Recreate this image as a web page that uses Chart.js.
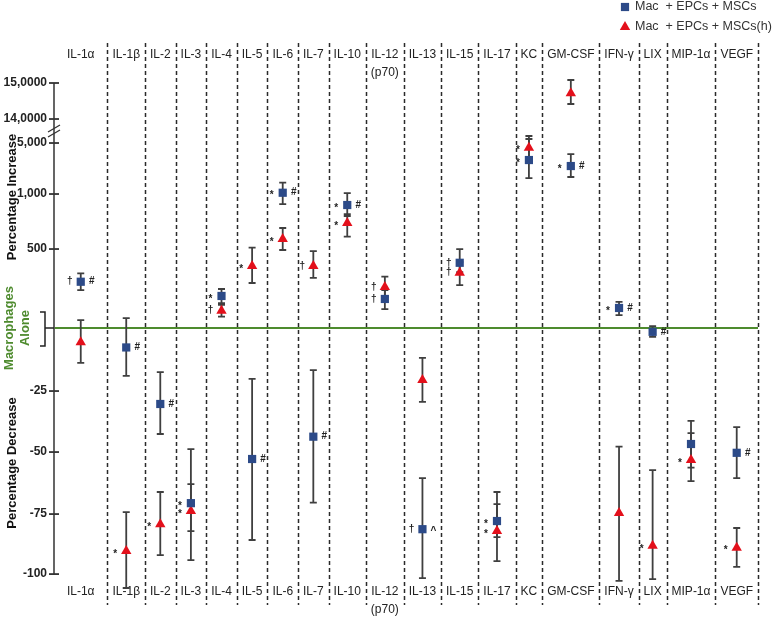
<!DOCTYPE html>
<html><head><meta charset="utf-8">
<script src="https://cdn.jsdelivr.net/npm/chart.js@4.4.1/dist/chart.umd.min.js"></script>
<style>html,body{margin:0;padding:0;background:#fff}#wrap{width:774px;height:617px}</style>
</head><body><div id="wrap"><canvas id="c" width="774" height="617"></canvas></div>
<script>
// ---------- DATA ----------
const categories = ['IL-1α','IL-1β','IL-2','IL-3','IL-4','IL-5','IL-6','IL-7','IL-10',['IL-12','(p70)'],'IL-13','IL-15','IL-17','KC','GM-CSF','IFN-γ','LIX','MIP-1α','VEGF'];
const seriesNames = ['Mac  + EPCs + MSCs', 'Mac  + EPCs + MSCs(h)'];

// percentage change relative to macrophages alone
const macEpcMsc      = [293, -7.7, -30.3, -70.6, 203, -52.8, 1100, -43.7, 900, 184, -81.3, 413, -77.9, 3666, 3195, 127, -1.5, -46.7, -50.3];
const macEpcMscLow   = [240, -19, -42.6, -82.1, 158, -85.8, 909, -70.4, 800, 120, -101.7, 354, -84.6, 2254, 2333, 82, -3.5, -56.3, -60.5];
const macEpcMscHigh  = [346, 63, -17.5, -62.9, 247, -20.2, 1886, -16.7, 1078, 240, -60.5, 500, -71, 6500, 4136, 166, 12.7, -37.2, -39.8];
const macEpcMscLeft  = ['†','','','*','*','','*','','*','†','†','†','*','*','*','*','','',''];
const macEpcMscRight = ['#','#','#','','','#','#','#','#','','^','','','','#','#','#','','#'];

const macEpcMscH      = [-5.6, -90.4, -79.2, -73.8, 110, 392, 591, 392, 736, 260, -20.6, 350, -82.1, 4630, 14714, -74.6, -88.2, -53.2, -89];
const macEpcMscHLow   = [-13.8, -105.8, -92.1, -94.2, 72, 285, 494, 318, 612, 196, -29.4, 272, -94.6, 3822, 14417, -102.8, -102.1, -61.7, -97];
const macEpcMscHHigh  = [50.6, -74.2, -66.1, -48.8, 146, 512, 691, 487, 818, 325, -11.8, 418, -66.1, 7625, 15084, -47.8, -57.3, -42.2, -80.8];
const macEpcMscHLeft  = ['','*','*','*','†','*','*','†','*','†','','†','*','*','','','*','*','*'];
const macEpcMscHRight = ['','','','','','','','','','','','','','','','','','',''];

const yTickValues = [-100, -75, -50, -25, 500, 1000, 5000, 14000, 15000];
const yTickLabels = ['-100', '-75', '-50', '-25', '500', '1,000', '5,000', '14,0000', '15,0000'];

// ---------- AXIS GEOMETRY (segmented y axis of the figure) ----------
const axisStops = [-100, -75, -50, -25, 0, 500, 1000, 5000, 14000, 15000];
const axisGaps  = [60, 62, 61, 63, 79, 55, 51, 24, 36];
function toU(v) {
  const n = axisGaps.length;
  if (v <= axisStops[0]) return (v - axisStops[0]) / (axisStops[1] - axisStops[0]) * axisGaps[0];
  let u = 0;
  for (let i = 0; i < n; i++) {
    const a = axisStops[i], b = axisStops[i + 1];
    if (v <= b || i === n - 1) return u + (v - a) / (b - a) * axisGaps[i];
    u += axisGaps[i];
  }
}
function fromU(u) {
  const n = axisGaps.length;
  if (u <= 0) return axisStops[0] + u / axisGaps[0] * (axisStops[1] - axisStops[0]);
  let acc = 0;
  for (let i = 0; i < n; i++) {
    if (u <= acc + axisGaps[i] || i === n - 1) return axisStops[i] + (u - acc) / axisGaps[i] * (axisStops[i + 1] - axisStops[i]);
    acc += axisGaps[i];
  }
}
class PiecewiseScale extends Chart.LinearScale {
  getPixelForValue(v) {
    const u0 = toU(this.min), u1 = toU(this.max);
    return this.getPixelForDecimal((toU(v) - u0) / (u1 - u0));
  }
  getValueForPixel(p) {
    const u0 = toU(this.min), u1 = toU(this.max);
    return fromU(u0 + this.getDecimalForPixel(p) * (u1 - u0));
  }
}
PiecewiseScale.id = 'piecewise';
PiecewiseScale.defaults = Chart.LinearScale.defaults;

const FONT = '"Liberation Sans", Arial, Helvetica, sans-serif';
const colGap = 10, firstColLead = 16;
class ColumnScale extends Chart.CategoryScale {
  colEdges() {
    const labels = this.getLabels();
    const ctx = this.ctx;
    ctx.save();
    ctx.font = '12px ' + FONT;
    const w = labels.map((l, i) => {
      const lines = Array.isArray(l) ? l : [l];
      return Math.max(...lines.map(s => ctx.measureText(s).width)) + colGap + (i === 0 ? firstColLead : 0);
    });
    ctx.restore();
    const total = w.reduce((a, b) => a + b, 0);
    const k = (this.right - this.left) / total;
    const e = [this.left];
    w.forEach((wi, i) => e.push(e[i] + wi * k));
    return e;
  }
  getPixelForValue(value) {
    if (typeof value !== 'number') value = this.parse(value);
    if (value === null || isNaN(value)) return NaN;
    const e = this.colEdges();
    const i = Math.max(0, Math.min(e.length - 2, Math.round(value)));
    return (e[i] + e[i + 1]) / 2 + (value - i) * (e[i + 1] - e[i]);
  }
  getValueForPixel(p) {
    const e = this.colEdges();
    for (let i = 0; i < e.length - 1; i++) if (p < e[i + 1]) return i;
    return e.length - 2;
  }
}
ColumnScale.id = 'columns';
ColumnScale.defaults = Chart.CategoryScale.defaults;
Chart.register(PiecewiseScale, ColumnScale);

const squareColor = '#2C4A88';
const triangleColor = '#E3101B';
const barColor = '#3f3f3f';
const green = '#4E8B2E';

const series = [
  {name: seriesNames[0], data: macEpcMsc, lo: macEpcMscLow, hi: macEpcMscHigh, left: macEpcMscLeft, right: macEpcMscRight},
  {name: seriesNames[1], data: macEpcMscH, lo: macEpcMscHLow, hi: macEpcMscHHigh, left: macEpcMscHLeft, right: macEpcMscHRight}
];

const decor = {
  id: 'decor',
  beforeDatasetsDraw(chart) {
    const ctx = chart.ctx, xs = chart.scales.x, ys = chart.scales.y;
    const edges = xs.colEdges();
    ctx.save();
    // dashed separators
    ctx.strokeStyle = '#2a2a2a'; ctx.lineWidth = 1.5; ctx.setLineDash([4, 3]);
    for (let i = 1; i < edges.length; i++) {
      const x = Math.round(edges[i]) + 0.5;
      ctx.beginPath(); ctx.moveTo(x, 43); ctx.lineTo(x, 605); ctx.stroke();
    }
    ctx.setLineDash([]);
    // top category labels
    ctx.fillStyle = '#222'; ctx.font = '12px ' + FONT; ctx.textAlign = 'center'; ctx.textBaseline = 'middle';
    categories.forEach((c, i) => {
      const lines = Array.isArray(c) ? c : [c];
      const x = xs.getPixelForValue(i);
      lines.forEach((s, j) => ctx.fillText(s, x, 55 + j * 18));
    });
    // baseline (macrophages alone)
    const y0 = ys.getPixelForValue(0);
    ctx.strokeStyle = green; ctx.lineWidth = 2;
    ctx.beginPath(); ctx.moveTo(chart.chartArea.left, y0); ctx.lineTo(edges[edges.length - 1], y0); ctx.stroke();
    // y axis line + ticks
    const ax = chart.chartArea.left;
    ctx.strokeStyle = '#555'; ctx.lineWidth = 1.8;
    ctx.beginPath(); ctx.moveTo(ax, ys.getPixelForValue(15000)); ctx.lineTo(ax, ys.getPixelForValue(-100)); ctx.stroke();
    ctx.strokeStyle = '#333'; ctx.lineWidth = 1.8;
    yTickValues.forEach(v => {
      const y = ys.getPixelForValue(v);
      ctx.beginPath(); ctx.moveTo(ax - 5, y); ctx.lineTo(ax + 5, y); ctx.stroke();
    });
    // axis break
    const yb = (ys.getPixelForValue(14000) + ys.getPixelForValue(5000)) / 2;
    ctx.lineWidth = 1.3;
    [-2.5, 2.5].forEach(d => {
      ctx.beginPath(); ctx.moveTo(ax - 6, yb + d + 3.5); ctx.lineTo(ax + 6, yb + d - 3.5); ctx.stroke();
    });
    // bracket
    ctx.strokeStyle = '#222'; ctx.lineWidth = 1.5;
    ctx.beginPath();
    ctx.moveTo(ax - 14, y0 - 16); ctx.lineTo(ax - 9, y0 - 16); ctx.lineTo(ax - 9, y0 + 18); ctx.lineTo(ax - 14, y0 + 18);
    ctx.moveTo(ax - 9, y0); ctx.lineTo(ax, y0);
    ctx.stroke();
    // axis titles
    ctx.fillStyle = '#111'; ctx.font = 'bold 13px ' + FONT;
    const vtext = (t, x, y) => { ctx.save(); ctx.translate(x, y); ctx.rotate(-Math.PI / 2); ctx.fillText(t, 0, 0); ctx.restore(); };
    vtext('Percentage Increase', 12, 197);
    vtext('Percentage Decrease', 12, 463);
    ctx.fillStyle = green;
    vtext('Macrophages', 9, y0);
    vtext('Alone', 25, y0);
    // error bars
    ctx.strokeStyle = barColor; ctx.lineWidth = 1.8;
    series.forEach(s => {
      s.data.forEach((v, i) => {
        const x = xs.getPixelForValue(i);
        const yl = ys.getPixelForValue(s.lo[i]), yh = ys.getPixelForValue(s.hi[i]);
        ctx.beginPath();
        ctx.moveTo(x, yl); ctx.lineTo(x, yh);
        ctx.moveTo(x - 3.5, yl); ctx.lineTo(x + 3.5, yl);
        ctx.moveTo(x - 3.5, yh); ctx.lineTo(x + 3.5, yh);
        ctx.stroke();
      });
    });
    ctx.restore();
  },
  afterDatasetsDraw(chart) {
    const ctx = chart.ctx, xs = chart.scales.x, ys = chart.scales.y;
    ctx.save();
    ctx.fillStyle = '#222'; ctx.font = 'bold 10px ' + FONT; ctx.textAlign = 'center'; ctx.textBaseline = 'middle';
    const mark = (t, x, y) => { if (!t) return; ctx.fillText(t, x, y + (t === '*' ? 3 : (t === '^' ? 2 : 0))); };
    series.forEach(s => {
      s.data.forEach((v, i) => {
        const x = xs.getPixelForValue(i), y = ys.getPixelForValue(v);
        mark(s.left[i], x - 11, y);
        mark(s.right[i], x + 11, y);
      });
    });
    // legend
    ctx.font = '12.5px ' + FONT; ctx.textAlign = 'left';
    chart.data.datasets.forEach((ds, k) => {
      const y = 7 + k * 20;
      ctx.fillStyle = ds.backgroundColor;
      Chart.helpers.drawPoint(ctx, {pointStyle: ds.pointStyle, radius: ds.pointRadius, borderWidth: 0}, 625, y);
      ctx.fillStyle = '#333';
      ctx.fillText(ds.label, 635, y);
    });
    ctx.restore();
  }
};

new Chart(document.getElementById('c'), {
  type: 'line',
  data: {
    labels: categories,
    datasets: [
      {label: seriesNames[0], data: macEpcMsc, showLine: false, pointStyle: 'rect', pointRadius: 5.8,
       backgroundColor: squareColor, borderColor: squareColor, pointBorderWidth: 0, clip: false},
      {label: seriesNames[1], data: macEpcMscH, showLine: false, pointStyle: 'triangle', pointRadius: 6,
       backgroundColor: triangleColor, borderColor: triangleColor, pointBorderWidth: 0, clip: false}
    ]
  },
  options: {
    responsive: false, animation: false, devicePixelRatio: 1,
    layout: {padding: {top: 78, right: 16, left: 0, bottom: 0}},
    plugins: {legend: {display: false}, tooltip: {enabled: false}},
    scales: {
      x: {type: 'columns', position: 'bottom',
          grid: {display: false, drawTicks: false}, border: {display: false},
          ticks: {autoSkip: false, maxRotation: 0, minRotation: 0, padding: 1, color: '#222',
                  font: {size: 12, family: FONT, lineHeight: 1.5}},
          afterFit: s => { s.height = 35; }},
      y: {type: 'piecewise', min: -103.3, max: 15139,
          grid: {display: false, drawTicks: false}, border: {display: false},
          afterBuildTicks: s => { s.ticks = yTickValues.map(v => ({value: v})); },
          ticks: {padding: 7, color: '#222', font: {size: 12, weight: 'bold', family: FONT},
                  callback: v => yTickLabels[yTickValues.indexOf(v)]},
          afterFit: s => { s.width = 54; }}
    }
  },
  plugins: [decor]
});
</script></body></html>
